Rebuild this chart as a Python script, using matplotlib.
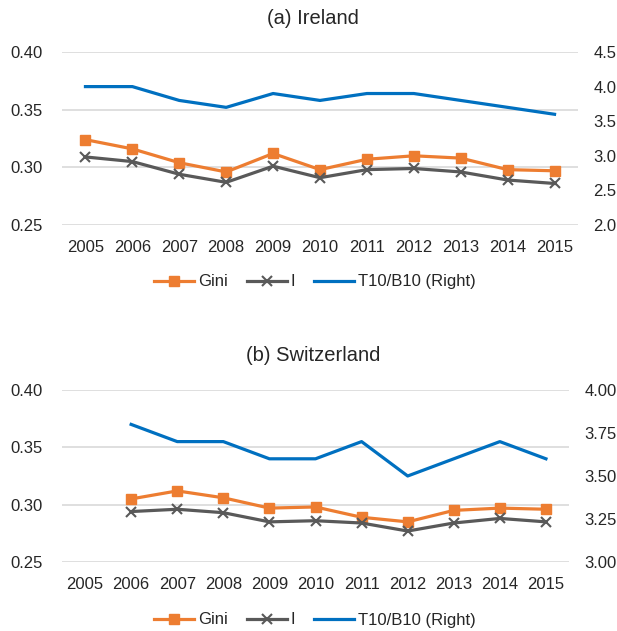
import numpy as np
import matplotlib
matplotlib.use("Agg")
import matplotlib.pyplot as plt
from matplotlib.lines import Line2D

plt.rcParams['font.family'] = ['Liberation Sans', 'DejaVu Sans']

years = ['2005', '2006', '2007', '2008', '2009', '2010',
         '2011', '2012', '2013', '2014', '2015']

# (a) Ireland
ie_gini = [0.324, 0.316, 0.304, 0.296, 0.312, 0.298, 0.307, 0.310, 0.308, 0.298, 0.297]
ie_i = [0.309, 0.305, 0.294, 0.287, 0.301, 0.291, 0.298, 0.299, 0.296, 0.289, 0.286]
ie_t10b10 = [4.0, 4.0, 3.8, 3.7, 3.9, 3.8, 3.9, 3.9, 3.8, 3.7, 3.6]

# (b) Switzerland, no 2005 data
ch_gini = [np.nan, 0.305, 0.312, 0.306, 0.297, 0.298, 0.289, 0.285, 0.295, 0.297, 0.296]
ch_i = [np.nan, 0.294, 0.296, 0.293, 0.285, 0.286, 0.284, 0.277, 0.284, 0.288, 0.285]
ch_t10b10 = [np.nan, 3.8, 3.7, 3.7, 3.6, 3.6, 3.7, 3.5, 3.6, 3.7, 3.6]

ORANGE = '#ED7D31'
GREY = '#595959'
BLUE = '#0070C0'
GRID = '#D9D9D9'
TXT = '#262626'

W, H = 617, 631
fig = plt.figure(figsize=(W / 100, H / 100), dpi=100)


def panel(rect, title, gini, ineq, ratio, rlim, rticks, rfmt, title_y, leg_y):
    ax = fig.add_axes(rect)
    x = np.arange(len(years))
    ax.plot(x, gini, color=ORANGE, lw=2.3, marker='s', ms=7.5, zorder=3)
    ax.plot(x, ineq, color=GREY, lw=2.3, marker='x', ms=7.5, mew=1.5, zorder=3)
    ax.set_xlim(-0.5, len(years) - 0.5)
    ax.set_ylim(0.25, 0.40)
    ax.set_yticks([0.25, 0.30, 0.35, 0.40])
    ax.set_yticklabels(['%.2f' % v for v in [0.25, 0.30, 0.35, 0.40]])
    ax.set_xticks(x)
    ax.set_xticklabels(years)
    ax.grid(axis='y', color=GRID, lw=1.2, zorder=0)
    ax.set_axisbelow(True)
    for s in ax.spines.values():
        s.set_visible(False)
    ax.tick_params(axis='y', length=0, pad=14, labelsize=12, labelcolor=TXT)
    ax.tick_params(axis='x', length=0, pad=11, labelsize=12, labelcolor=TXT)

    ax2 = ax.twinx()
    ax2.plot(x, ratio, color=BLUE, lw=2.3, zorder=3)
    ax2.set_ylim(*rlim)
    ax2.set_yticks(rticks)
    ax2.set_yticklabels([rfmt % v for v in rticks])
    for s in ax2.spines.values():
        s.set_visible(False)
    ax2.tick_params(axis='y', length=0, pad=11, labelsize=12, labelcolor=TXT)

    fig.text(0.507, 1 - title_y / H, title, ha='center', va='center',
             fontsize=14.5, color=TXT)

    handles = [
        Line2D([], [], color=ORANGE, lw=2.3, marker='s', ms=7),
        Line2D([], [], color=GREY, lw=2.3, marker='x', ms=7, mew=1.5),
        Line2D([], [], color=BLUE, lw=2.3),
    ]
    fig.legend(handles, ['Gini', 'I', 'T10/B10 (Right)'], ncol=3,
               loc='center', bbox_to_anchor=(315 / W, 1 - leg_y / H),
               frameon=False, fontsize=12, handlelength=2.4,
               handletextpad=0.25, columnspacing=1.1, labelcolor=TXT)
    return ax


panel([62 / W, 1 - 225 / H, (578 - 62) / W, (225 - 52) / H],
      '(a) Ireland', ie_gini, ie_i, ie_t10b10,
      (2.0, 4.5), [2.0, 2.5, 3.0, 3.5, 4.0, 4.5], '%.1f', 18, 282)

panel([62 / W, 1 - 562 / H, (569 - 62) / W, (562 - 390) / H],
      '(b) Switzerland', ch_gini, ch_i, ch_t10b10,
      (3.0, 4.0), [3.0, 3.25, 3.5, 3.75, 4.0], '%.2f', 356, 620)

fig.savefig('out.png', dpi=100)
